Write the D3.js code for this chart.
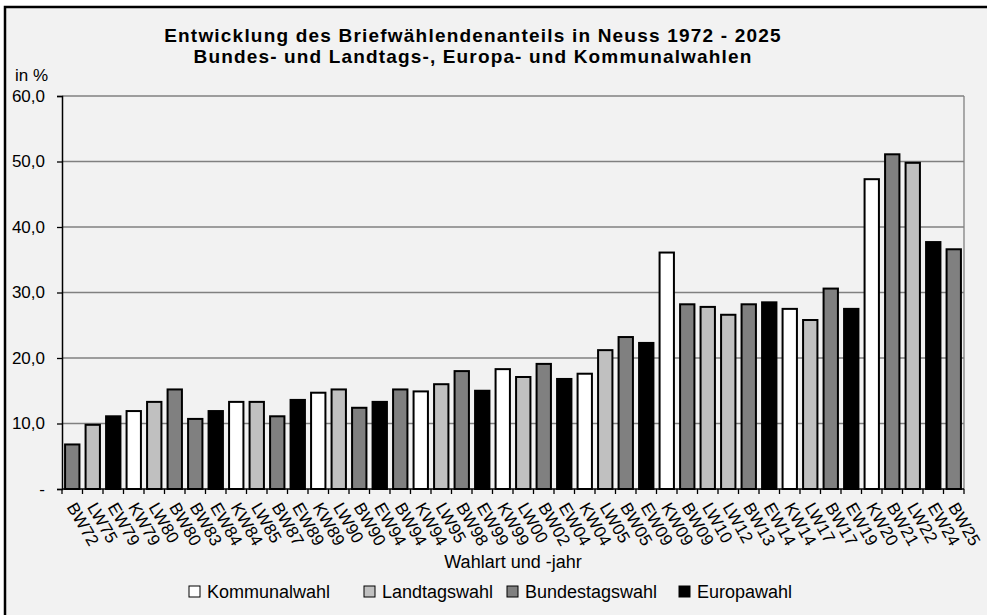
<!DOCTYPE html>
<html>
<head>
<meta charset="utf-8">
<script src="https://cdn.jsdelivr.net/npm/d3@7"></script>
<style>
  body { margin: 0; background: #fff; }
  svg { display: block; font-family: "Liberation Sans", Arial, sans-serif; }
</style>
</head>
<body>
<svg width="987" height="615"></svg>
<script>
// categories (Wahlart + Jahr) and share of postal voters in %
const categories = [
  'BW72', 'LW75', 'EW79', 'KW79', 'LW80', 'BW80', 'BW83', 'EW84', 'KW84', 'LW85',
  'BW87', 'EW89', 'KW89', 'LW90', 'BW90', 'EW94', 'BW94', 'KW94', 'LW95', 'BW98',
  'EW99', 'KW99', 'LW00', 'BW02', 'EW04', 'KW04', 'LW05', 'BW05', 'EW09', 'KW09',
  'BW09', 'LW10', 'LW12', 'BW13', 'EW14', 'KW14', 'LW17', 'BW17', 'EW19', 'KW20',
  'BW21', 'LW22', 'EW24', 'BW25',
];
const values = [
  6.8, 9.8, 11.1, 11.9, 13.3, 15.2, 10.7, 11.9, 13.3, 13.3,
  11.1, 13.6, 14.7, 15.2, 12.4, 13.3, 15.2, 14.9, 16.0, 18.0,
  15.0, 18.3, 17.1, 19.1, 16.8, 17.6, 21.2, 23.2, 22.3, 36.1,
  28.2, 27.8, 26.6, 28.2, 28.5, 27.5, 25.8, 30.6, 27.5, 47.3,
  51.1, 49.8, 37.7, 36.6,
];
// election types: prefix of the category -> legend name
const types = ['KW', 'LW', 'BW', 'EW'];
const typeNames = ['Kommunalwahl', 'Landtagswahl', 'Bundestagswahl', 'Europawahl'];
const yTicks = [0, 10, 20, 30, 40, 50, 60];

const chart = {};
chart.svg = d3.select('svg');
chart.data = categories.map(function(c, i) {
  return { name: c, type: c.substring(0, 2), value: values[i] };
});

// outer frame (only top and left edge visible)
chart.svg.append('rect')
  .attr('x', 5).attr('y', 7).attr('width', 1000).attr('height', 700)
  .attr('fill', '#f2f2f2').attr('stroke', '#000').attr('stroke-width', 2.5);

// https://github.com/d3/d3-scale#band-scales
chart.x = d3.scaleBand().domain(categories).range([62, 964])
  .paddingInner(0.3).paddingOuter(0.15);
chart.y = d3.scaleLinear().domain([0, 60]).range([489, 96]);
chart.color = d3.scaleOrdinal().domain(types)
  .range(['#ffffff', '#c0c0c0', '#808080', '#000000']);

// gridlines + plot border
chart.svg.append('g').selectAll('line')
  .data(yTicks.slice(1)).enter().append('line')
  .attr('x1', 62).attr('x2', 964)
  .attr('y1', chart.y).attr('y2', chart.y)
  .attr('stroke', '#808080').attr('stroke-width', 1.3);
chart.svg.append('line')
  .attr('x1', 964).attr('x2', 964)
  .attr('y1', chart.y(60)).attr('y2', chart.y(0))
  .attr('stroke', '#808080').attr('stroke-width', 1.3);

// bars
chart.svg.append('g').selectAll('rect')
  .data(chart.data).enter().append('rect')
  .attr('x', function(d) { return chart.x(d.name); })
  .attr('y', function(d) { return chart.y(d.value); })
  .attr('width', chart.x.bandwidth())
  .attr('height', function(d) { return chart.y(0) - chart.y(d.value); })
  .attr('fill', function(d) { return chart.color(d.type); })
  .attr('stroke', '#000').attr('stroke-width', 2);

// https://github.com/d3/d3-axis
chart.svg.append('g')
  .attr('transform', 'translate(62,0)')
  .call(d3.axisLeft(chart.y).tickValues(yTicks).tickSize(5).tickPadding(12)
    .tickFormat(function(d) { return d === 0 ? '-' : d3.format('.1f')(d).replace('.', ','); }))
  .call(function(g) {
    g.select('.domain').attr('stroke-width', 1.5);
    g.selectAll('.tick line').attr('stroke-width', 1.3);
    g.selectAll('text').attr('font-size', 17).attr('fill', '#000')
      .attr('font-family', '"Liberation Sans", Arial, sans-serif');
  });

// x axis: ticks between the categories, slanted labels
chart.step = chart.x.step();
chart.bounds = categories.map(function(c) {
  return chart.x(c) - chart.x.paddingInner() * chart.step / 2;
}).concat([chart.x.range()[1]]);
chart.svg.append('line')
  .attr('x1', 62).attr('x2', 964)
  .attr('y1', chart.y(0)).attr('y2', chart.y(0))
  .attr('stroke', '#000').attr('stroke-width', 1.5);
chart.svg.append('g').selectAll('line')
  .data(chart.bounds).enter().append('line')
  .attr('x1', function(d) { return d; }).attr('x2', function(d) { return d; })
  .attr('y1', chart.y(0)).attr('y2', chart.y(0) + 5)
  .attr('stroke', '#000').attr('stroke-width', 1.3);
chart.svg.append('g').selectAll('text')
  .data(categories).enter().append('text')
  .attr('transform', function(d) {
    const cx = chart.x(d) + chart.x.bandwidth() / 2 - 6;
    return 'translate(' + cx + ',507) rotate(60)';
  })
  .attr('font-size', 17)
  .text(function(d) { return d; });

// titles (slightly tracked out like the original export)
chart.svg.append('text')
  .attr('x', 473).attr('y', 42).attr('text-anchor', 'middle')
  .attr('font-size', 19).attr('font-weight', 'bold').attr('letter-spacing', 1.2)
  .text('Entwicklung des Briefwählendenanteils in Neuss 1972 - 2025');
chart.svg.append('text')
  .attr('x', 473).attr('y', 63).attr('text-anchor', 'middle')
  .attr('font-size', 19).attr('font-weight', 'bold').attr('letter-spacing', 1.15)
  .text('Bundes- und Landtags-, Europa- und Kommunalwahlen');
chart.svg.append('text')
  .attr('x', 15).attr('y', 81).attr('font-size', 17).text('in %');
chart.svg.append('text')
  .attr('x', 513).attr('y', 568).attr('text-anchor', 'middle')
  .attr('font-size', 18).text('Wahlart und -jahr');

// legend
chart.legendX = [189, 364, 507, 679];
chart.legend = chart.svg.append('g').selectAll('g')
  .data(types).enter().append('g')
  .attr('transform', function(d, i) { return 'translate(' + chart.legendX[i] + ',586)'; });
chart.legend.append('rect')
  .attr('width', 11).attr('height', 11)
  .attr('fill', chart.color).attr('stroke', '#000').attr('stroke-width', 1);
chart.legend.append('text')
  .attr('x', 18).attr('y', 12).attr('font-size', 18)
  .text(function(d, i) { return typeNames[i]; });
</script>
</body>
</html>
